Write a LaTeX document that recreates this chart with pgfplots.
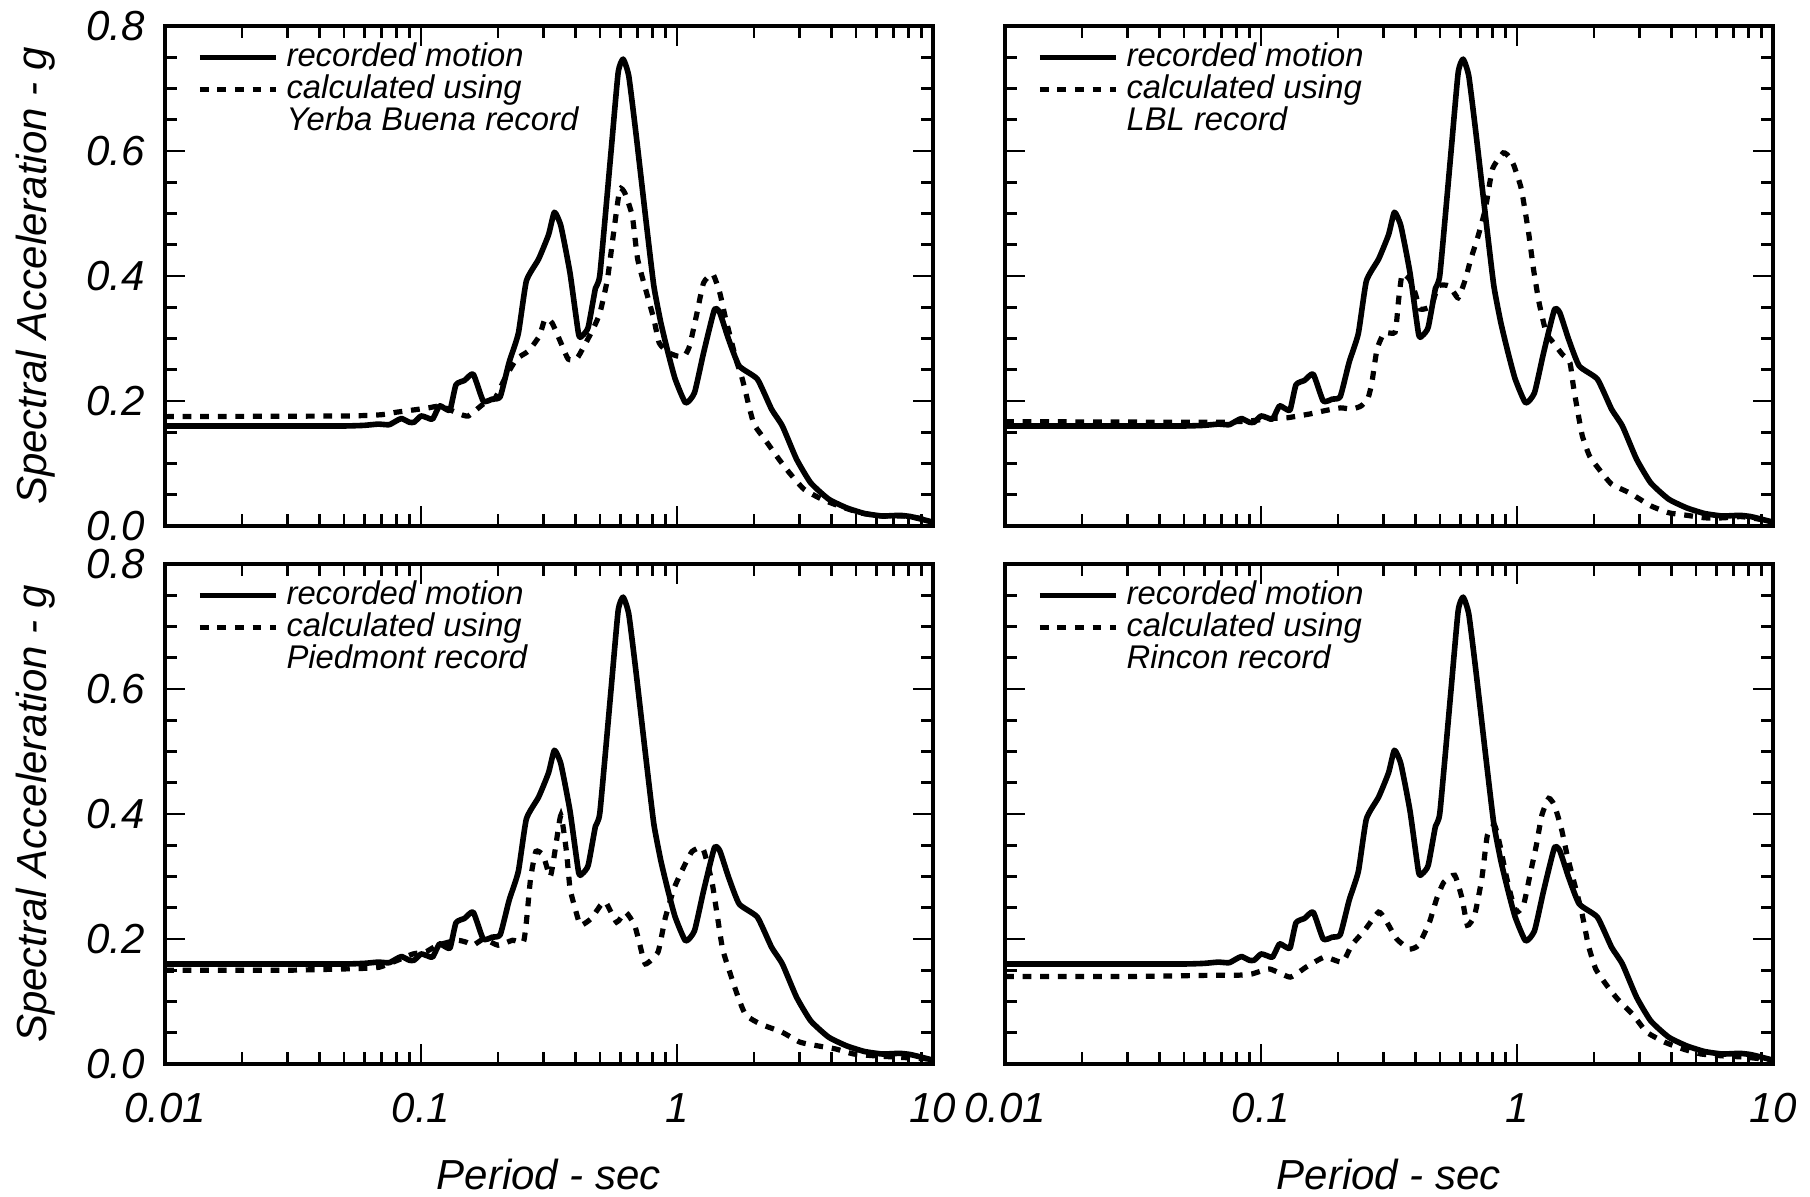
\documentclass[border=0pt]{standalone}
\usepackage{fontspec}
\setmainfont{Liberation Sans}
\usepackage{pgfplots}
\pgfplotsset{compat=1.18}
\usepackage{pgfplotstable}

\pgfplotstableread{
T SA
0.010 0.160
0.030 0.160
0.050 0.160
0.060 0.161
0.068 0.163
0.075 0.162
0.080 0.168
0.084 0.172
0.090 0.166
0.094 0.166
0.100 0.176
0.106 0.173
0.111 0.171
0.118 0.192
0.124 0.188
0.130 0.186
0.137 0.226
0.148 0.233
0.160 0.243
0.175 0.200
0.190 0.203
0.204 0.207
0.221 0.262
0.240 0.308
0.258 0.392
0.288 0.427
0.315 0.466
0.332 0.502
0.352 0.480
0.382 0.405
0.413 0.306
0.428 0.305
0.450 0.318
0.480 0.380
0.500 0.403
0.552 0.597
0.589 0.725
0.616 0.747
0.648 0.720
0.691 0.629
0.761 0.480
0.812 0.384
0.865 0.325
0.923 0.277
0.984 0.235
1.080 0.197
1.170 0.213
1.270 0.277
1.400 0.346
1.470 0.341
1.590 0.299
1.750 0.256
2.060 0.235
2.340 0.187
2.580 0.160
2.930 0.107
3.330 0.069
3.910 0.043
4.600 0.029
5.400 0.020
6.340 0.016
7.400 0.017
8.200 0.015
9.600 0.008
10.00 0.006
}\recorded

\pgfplotstableread{
T SA
0.010 0.175
0.050 0.176
0.070 0.178
0.080 0.182
0.091 0.185
0.107 0.189
0.118 0.192
0.128 0.187
0.140 0.180
0.153 0.176
0.175 0.195
0.195 0.205
0.212 0.235
0.236 0.267
0.263 0.280
0.290 0.304
0.305 0.331
0.325 0.325
0.352 0.293
0.376 0.267
0.405 0.267
0.434 0.288
0.470 0.315
0.500 0.341
0.535 0.395
0.570 0.480
0.598 0.539
0.625 0.533
0.669 0.496
0.702 0.427
0.761 0.373
0.812 0.331
0.852 0.293
0.920 0.278
1.000 0.272
1.070 0.272
1.120 0.288
1.190 0.336
1.270 0.389
1.380 0.403
1.470 0.373
1.540 0.336
1.700 0.267
1.800 0.235
1.990 0.165
2.200 0.139
2.500 0.107
2.750 0.085
3.130 0.059
3.670 0.043
4.300 0.032
5.200 0.021
6.300 0.016
7.700 0.016
9.000 0.012
10.00 0.008
}\yerba

\pgfplotstableread{
T SA
0.010 0.167
0.050 0.166
0.070 0.166
0.090 0.168
0.110 0.172
0.126 0.173
0.154 0.179
0.180 0.185
0.205 0.189
0.226 0.187
0.246 0.192
0.262 0.205
0.271 0.229
0.284 0.283
0.303 0.309
0.334 0.310
0.345 0.363
0.356 0.403
0.380 0.395
0.400 0.373
0.419 0.347
0.462 0.352
0.493 0.384
0.544 0.384
0.589 0.365
0.629 0.395
0.660 0.427
0.705 0.464
0.752 0.507
0.802 0.571
0.884 0.597
0.935 0.590
0.974 0.576
1.040 0.539
1.110 0.469
1.160 0.411
1.220 0.357
1.300 0.309
1.370 0.296
1.500 0.275
1.610 0.261
1.660 0.224
1.720 0.187
1.800 0.144
1.920 0.112
2.090 0.091
2.340 0.067
2.750 0.053
3.340 0.032
3.930 0.021
4.620 0.017
5.430 0.013
6.390 0.013
7.500 0.015
8.800 0.011
10.00 0.005
}\lbl

\pgfplotstableread{
T SA
0.010 0.150
0.030 0.150
0.060 0.153
0.069 0.155
0.080 0.165
0.093 0.176
0.105 0.180
0.116 0.190
0.138 0.198
0.150 0.195
0.160 0.190
0.176 0.200
0.200 0.190
0.228 0.198
0.251 0.195
0.258 0.227
0.268 0.297
0.281 0.340
0.300 0.334
0.320 0.300
0.335 0.345
0.352 0.398
0.370 0.340
0.382 0.281
0.400 0.249
0.420 0.222
0.463 0.233
0.503 0.254
0.527 0.259
0.581 0.227
0.630 0.243
0.683 0.222
0.717 0.190
0.753 0.160
0.843 0.179
0.899 0.233
0.974 0.281
1.056 0.313
1.145 0.340
1.262 0.345
1.370 0.291
1.436 0.238
1.507 0.184
1.607 0.147
1.743 0.104
1.860 0.078
2.115 0.064
2.570 0.051
3.020 0.035
3.550 0.029
4.170 0.024
4.900 0.016
5.950 0.013
7.200 0.011
8.750 0.009
10.00 0.008
}\piedmont

\pgfplotstableread{
T SA
0.010 0.140
0.030 0.140
0.066 0.142
0.081 0.142
0.092 0.144
0.108 0.152
0.130 0.139
0.150 0.155
0.177 0.171
0.208 0.163
0.226 0.190
0.254 0.214
0.288 0.243
0.307 0.230
0.339 0.200
0.380 0.184
0.412 0.190
0.455 0.227
0.486 0.265
0.518 0.291
0.571 0.302
0.610 0.265
0.640 0.222
0.683 0.238
0.729 0.297
0.766 0.366
0.817 0.382
0.858 0.350
0.901 0.307
0.946 0.270
0.994 0.243
1.060 0.254
1.130 0.307
1.190 0.350
1.250 0.398
1.330 0.425
1.400 0.414
1.490 0.377
1.570 0.334
1.670 0.291
1.790 0.243
1.900 0.190
2.030 0.152
2.240 0.126
2.470 0.104
2.850 0.078
3.210 0.051
3.770 0.035
4.450 0.024
5.230 0.016
6.350 0.013
7.740 0.011
9.100 0.008
10.00 0.006
}\rincon

\pgfplotsset{
  legend image code/.code={\draw[#1] (0pt,0pt) -- (19pt,0pt);},
  scale only axis, width=192pt, height=125pt,
  xmin=0.01, xmax=10, ymin=0, ymax=0.8,
  xtick={0.01,0.1,1,10},
  minor xtick={0.02,0.03,0.04,0.05,0.06,0.07,0.08,0.09,0.2,0.3,0.4,0.5,0.6,0.7,0.8,0.9,2,3,4,5,6,7,8,9},
  ytick={0,0.2,0.4,0.6,0.8},
  minor ytick={0.05,0.1,0.15,0.25,0.3,0.35,0.45,0.5,0.55,0.65,0.7,0.75},
  tick align=inside, tick pos=both,
  major tick length=5pt, minor tick length=3pt,
  axis line style={line width=1.1pt},
  every tick/.style={black, line width=0.7pt},
  tick label style={font=\fontsize{10.5}{12}\selectfont\itshape},
  xticklabel style={anchor=center, yshift=-11pt},
  yticklabel style={xshift=-1.5pt},
  label style={font=\fontsize{10.5}{12}\selectfont\itshape},
  xlabel style={at={(axis description cs:0.5,-0.222)}, anchor=center},
  ylabel style={at={(axis description cs:-0.169,0.5)}, anchor=center},
  legend style={draw=none, fill=none, font=\fontsize{8.2}{9}\selectfont\itshape,
    at={(rel axis cs:0.025,1.0)}, anchor=north west, row sep=-3.5pt},
  legend cell align=left,
}
\tikzset{
  rec/.style={black, line width=1.4pt, line join=round, smooth, tension=0.3},
  calc/.style={black, line width=1.3pt, dash pattern=on 2.2pt off 2.2pt, smooth, tension=0.3},
}

\begin{document}
\begin{tikzpicture}
\useasboundingbox (-41.25pt,-33.25pt) rectangle (411.25pt,266pt);

\begin{semilogxaxis}[at={(0pt,134.5pt)}, xticklabels={}, yticklabels={0.0,0.2,0.4,0.6,0.8},
  ylabel={Spectral Acceleration - g}]
\addplot[rec] table[x=T,y=SA] {\recorded};
\addlegendentry{recorded motion}
\addplot[calc] table[x=T,y=SA] {\yerba};
\addlegendentry{calculated using}
\addlegendimage{empty legend}
\addlegendentry{Yerba Buena record}
\end{semilogxaxis}

\begin{semilogxaxis}[at={(210pt,134.5pt)}, xticklabels={}, yticklabels={}]
\addplot[rec] table[x=T,y=SA] {\recorded};
\addlegendentry{recorded motion}
\addplot[calc] table[x=T,y=SA] {\lbl};
\addlegendentry{calculated using}
\addlegendimage{empty legend}
\addlegendentry{LBL record}
\end{semilogxaxis}

\begin{semilogxaxis}[at={(0pt,0pt)}, xticklabels={0.01,0.1,1,10}, yticklabels={0.0,0.2,0.4,0.6,0.8},
  ylabel={Spectral Acceleration - g}, xlabel={Period - sec}]
\addplot[rec] table[x=T,y=SA] {\recorded};
\addlegendentry{recorded motion}
\addplot[calc] table[x=T,y=SA] {\piedmont};
\addlegendentry{calculated using}
\addlegendimage{empty legend}
\addlegendentry{Piedmont record}
\end{semilogxaxis}

\begin{semilogxaxis}[at={(210pt,0pt)}, xticklabels={0.01,0.1,1,10}, yticklabels={},
  xlabel={Period - sec}]
\addplot[rec] table[x=T,y=SA] {\recorded};
\addlegendentry{recorded motion}
\addplot[calc] table[x=T,y=SA] {\rincon};
\addlegendentry{calculated using}
\addlegendimage{empty legend}
\addlegendentry{Rincon record}
\end{semilogxaxis}
\end{tikzpicture}
\end{document}
